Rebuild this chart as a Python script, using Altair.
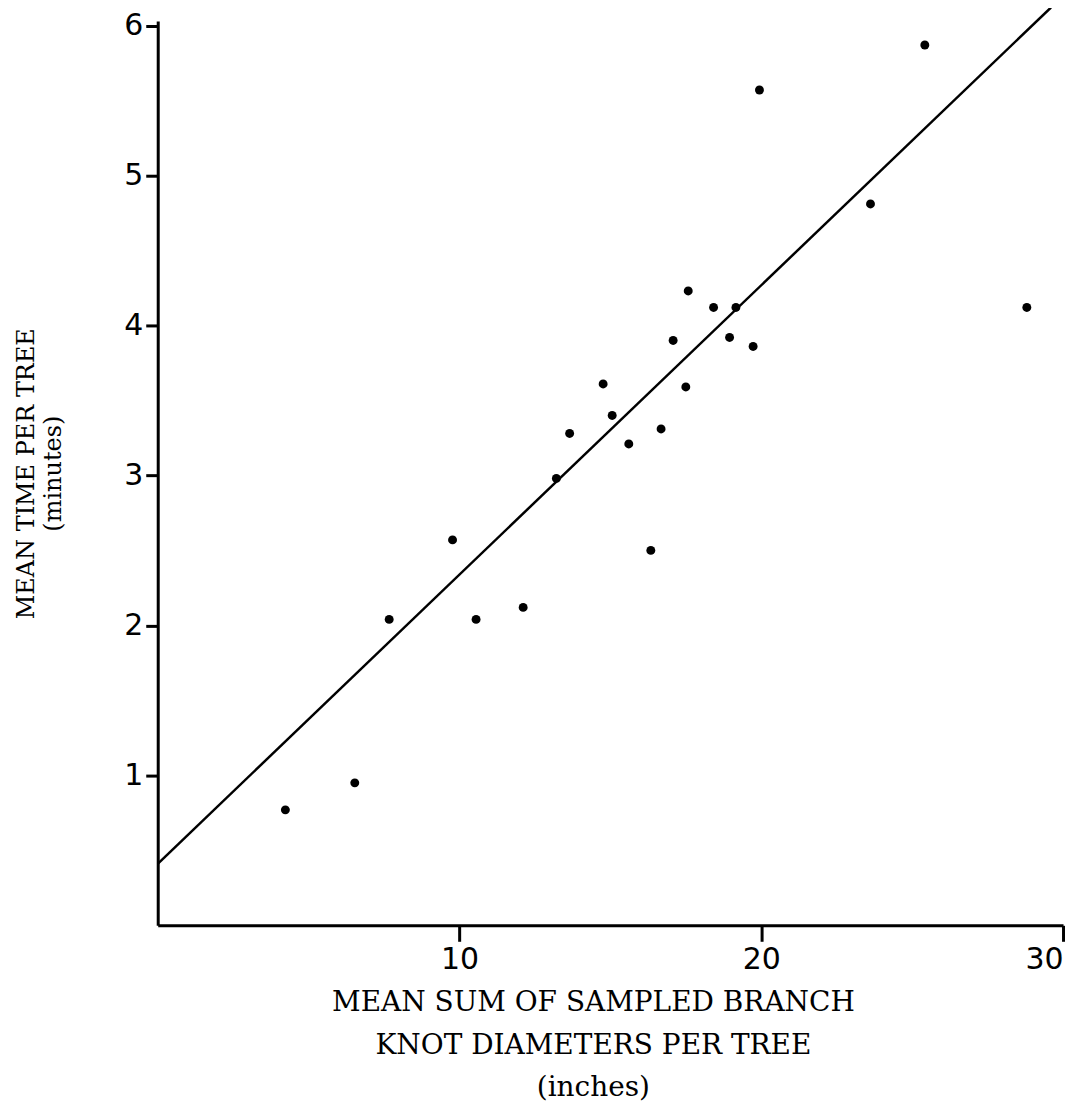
import altair as alt
import pandas as pd

# Scatter data
knot_sum = [4.23, 6.53, 7.67, 9.77, 10.55, 12.11, 13.21, 13.65, 14.76, 15.06,
            15.61, 16.34, 16.68, 17.08, 17.50, 17.58, 18.42, 18.95, 19.16, 19.73,
            19.94, 23.62, 25.42, 28.80]
mean_time = [0.77, 0.95, 2.04, 2.57, 2.04, 2.12, 2.98, 3.28, 3.61, 3.40,
             3.21, 2.50, 3.31, 3.90, 3.59, 4.23, 4.12, 3.92, 4.12, 3.86,
             5.57, 4.81, 5.87, 4.12]

# Fitted line end points
line_x = [0.0, 29.6]
line_y = [0.41, 6.12]

x_ticks = [10, 20, 30]
y_ticks = [1, 2, 3, 4, 5, 6]

pts = pd.DataFrame({"x": knot_sum, "y": mean_time})
ln = pd.DataFrame({"x": line_x, "y": line_y})

x_scale = alt.Scale(domain=[0, 30], nice=False, zero=False)
y_scale = alt.Scale(domain=[0, 6.03], nice=False, zero=False)

x_axis = alt.Axis(
    values=x_ticks, format="d", grid=False, domainColor="black", domainWidth=3,
    tickColor="black", tickWidth=3, tickSize=16, labelPadding=3,
    labelFont="DejaVu Sans", labelFontSize=30, labelColor="black",
    title=["MEAN SUM OF SAMPLED BRANCH", "KNOT DIAMETERS PER TREE", "(inches)"],
    titleFont="DejaVu Serif", titleFontSize=28, titleFontWeight="normal",
    titleColor="black", titleLineHeight=43, titlePadding=14, titleX=436,
)
y_axis = alt.Axis(
    values=y_ticks, format="d", grid=False, domainColor="black", domainWidth=3,
    tickColor="black", tickWidth=3, tickSize=12, labelPadding=3,
    labelFont="DejaVu Sans", labelFontSize=30, labelColor="black",
    title=["MEAN TIME PER TREE", "(minutes)"],
    titleFont="DejaVu Serif", titleFontSize=24, titleFontWeight="normal",
    titleColor="black", titleLineHeight=27, titlePadding=58,
)

points = alt.Chart(pts).mark_circle(color="black", opacity=1, size=80).encode(
    x=alt.X("x:Q", scale=x_scale, axis=x_axis),
    y=alt.Y("y:Q", scale=y_scale, axis=y_axis),
)
line = alt.Chart(ln).mark_line(color="black", strokeWidth=2.5, clip=False).encode(
    x=alt.X("x:Q", scale=x_scale),
    y=alt.Y("y:Q", scale=y_scale),
)

chart = alt.layer(line, points).properties(
    width=907, height=906,
    autosize=alt.AutoSizeParams(type="none"),
    padding={"left": 150, "top": 12, "right": 15, "bottom": 184},
    background="white",
).configure_view(stroke=None)

chart.save("out.html", embed_options={"renderer": "svg", "actions": False})
